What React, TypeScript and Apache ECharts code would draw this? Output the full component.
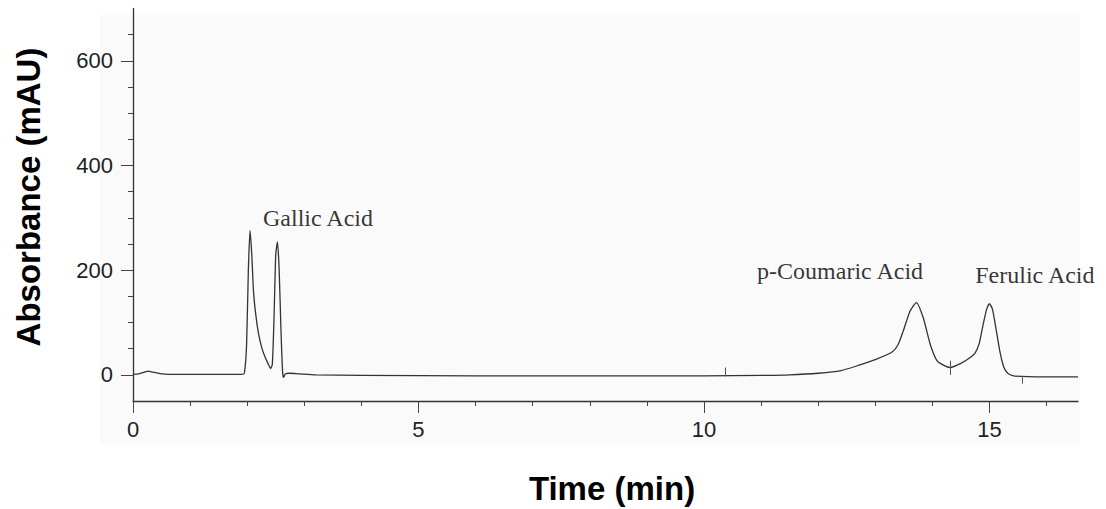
import React, { useEffect, useRef } from "react";
import * as echarts from "echarts";

// Chromatogram trace (time in min, absorbance in mAU)
const times = [
  0, 0.1, 0.2, 0.27, 0.35, 0.5, 0.8, 1.2, 1.6, 1.9, 1.95, 1.99, 2.02, 2.05, 2.08,
  2.11, 2.15, 2.2, 2.26, 2.32, 2.38, 2.41, 2.44, 2.47, 2.5, 2.53, 2.56, 2.59, 2.62,
  2.64, 2.67, 2.75, 2.9, 3.2, 4, 6, 8, 10, 11, 11.5, 12, 12.4, 12.73, 13.0, 13.3,
  13.4, 13.49, 13.61, 13.72, 13.84, 13.96, 14.08, 14.2, 14.31, 14.5, 14.65, 14.75,
  14.82, 14.89, 14.95, 15.0, 15.05, 15.1, 15.18, 15.25, 15.32, 15.42, 15.55, 16.0, 16.55,
];
const absorbance = [
  1, 2, 5, 7, 5, 2, 1, 1, 1, 1, 3, 60, 200, 276, 230,
  160, 115, 78, 50, 32, 18, 12, 20, 110, 230, 254, 200, 90, 5,
  -5, 2, 3, 2, 0, -1, -2, -2, -2, -1, 0, 3, 8, 19, 29, 44,
  58, 84, 122, 138, 109, 59, 27, 18, 14, 22, 32, 42,
  60, 97, 125, 136, 126, 97, 46, 15, 3, -2, -3, -4, -4,
];

// Integration marks on the baseline
const markTimes = [10.38, 14.32, 15.58];
const markLow = [-3, 0, -17];
const markHigh = [14, 27, -2];

// Peak annotations
const peakNames = ["Gallic Acid", "p-Coumaric Acid", "Ferulic Acid"];
const peakLabelTimes = [2.277, 10.93, 14.75];
const peakLabelValues = [300, 198.7, 191];

// Axis ticks
const xMajorTicks = [0, 5, 10, 15];
const xMinorTicks = [0, 1, 2, 3, 4, 5, 6, 7, 8, 9, 10, 11, 12, 13, 14, 15, 16];
const yMajorTicks = [0, 200, 400, 600];
const yMinorTicks = [0, 50, 100, 150, 200, 250, 300, 350, 400, 450, 500, 550, 600, 650];

const X_MIN = 0;
const X_MAX = 16.55;
const Y_MIN = -50;
const Y_MAX = 700;

export default function App() {
  const ref = useRef<HTMLDivElement>(null);

  useEffect(() => {
    if (!ref.current) return;
    const chart = echarts.init(ref.current, undefined, { renderer: "svg" });
    const axisColor = "#333";
    const labelFont = { fontFamily: "Liberation Sans, Arial, sans-serif", fontSize: 22, color: "#222" };

    const baseX = {
      type: "value" as const,
      min: X_MIN,
      max: X_MAX,
      position: "bottom" as const,
      splitLine: { show: false },
    };
    const baseY = {
      type: "value" as const,
      min: Y_MIN,
      max: Y_MAX,
      position: "left" as const,
      splitLine: { show: false },
    };

    chart.setOption({
      animation: false,
      backgroundColor: "#ffffff",
      grid: { left: 133, right: 28, top: 8.5, bottom: 108, containLabel: false },
      graphic: [
        {
          type: "rect",
          z: -10,
          shape: { x: 100, y: 15, width: 980, height: 430 },
          style: { fill: "#fafafa" },
          silent: true,
        },
        {
          type: "text",
          x: 28,
          y: 197,
          rotation: Math.PI / 2,
          style: {
            text: "Absorbance (mAU)",
            fontFamily: "Liberation Sans, Arial, sans-serif",
            fontWeight: "bold",
            fontSize: 33,
            fill: "#000",
            align: "center",
            verticalAlign: "middle",
          },
        },
        {
          type: "text",
          x: 612,
          y: 488,
          style: {
            text: "Time (min)",
            fontFamily: "Liberation Sans, Arial, sans-serif",
            fontWeight: "bold",
            fontSize: 33,
            fill: "#000",
            align: "center",
            verticalAlign: "middle",
          },
        },
      ],
      xAxis: [
        {
          ...baseX,
          axisLine: { show: true, onZero: false, lineStyle: { color: axisColor, width: 1.3 } },
          axisTick: { show: true, length: 5, customValues: xMinorTicks, lineStyle: { color: "#444" } },
          axisLabel: { show: false },
        },
        {
          ...baseX,
          axisLine: { show: false, onZero: false },
          axisTick: { show: true, length: 12, customValues: xMajorTicks, lineStyle: { color: "#444" } },
          axisLabel: { show: true, customValues: xMajorTicks, margin: 17, ...labelFont },
        },
      ],
      yAxis: [
        {
          ...baseY,
          axisLine: { show: true, onZero: false, lineStyle: { color: axisColor, width: 1.3 } },
          axisTick: { show: true, length: 5, customValues: yMinorTicks, lineStyle: { color: "#444" } },
          axisLabel: { show: false },
        },
        {
          ...baseY,
          axisLine: { show: false, onZero: false },
          axisTick: { show: true, length: 12, customValues: yMajorTicks, lineStyle: { color: "#444" } },
          axisLabel: { show: true, customValues: yMajorTicks, margin: 20, ...labelFont },
        },
      ],
      series: [
        {
          type: "line",
          xAxisIndex: 0,
          yAxisIndex: 0,
          data: times.map((t, i) => [t, absorbance[i]]),
          showSymbol: false,
          smooth: 0.2,
          lineStyle: { color: "#333", width: 1.3 },
          markLine: {
            symbol: "none",
            silent: true,
            label: { show: false },
            lineStyle: { color: "#555", width: 1, type: "solid" },
            data: markTimes.map((t, i) => [
              { coord: [t, markLow[i]] },
              { coord: [t, markHigh[i]] },
            ]),
          },
        },
        {
          type: "scatter",
          xAxisIndex: 0,
          yAxisIndex: 0,
          symbolSize: 0,
          silent: true,
          data: peakNames.map((n, i) => ({ name: n, value: [peakLabelTimes[i], peakLabelValues[i]] })),
          label: {
            show: true,
            position: "right",
            distance: 0,
            formatter: (p: any) => p.name,
            fontFamily: "Liberation Serif, Times New Roman, serif",
            fontSize: 24,
            color: "#000",
          },
        },
      ],
    });

    return () => chart.dispose();
  }, []);

  return (
    <div
      ref={ref}
      style={{ position: "absolute", left: 0, top: 0, width: 1106, height: 509 }}
    />
  );
}
